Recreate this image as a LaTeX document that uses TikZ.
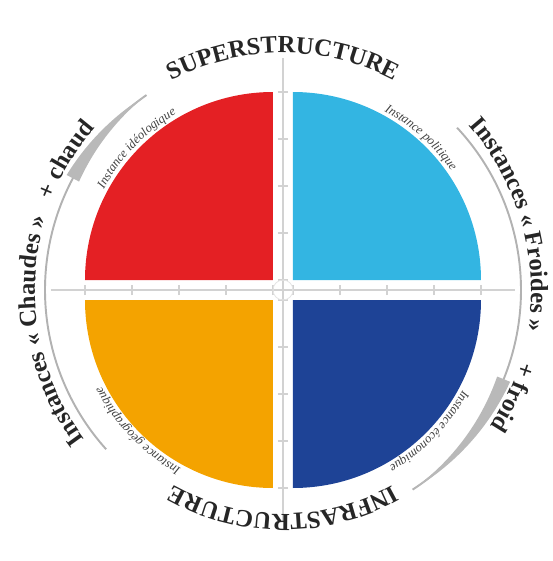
\documentclass[tikz,border=0pt]{standalone}
\usepackage{fontspec}
\setmainfont{Liberation Serif}
\usepackage{tikz}
\usetikzlibrary{decorations.text}
\definecolor{rouge}{RGB}{228,32,36}
\definecolor{ciel}{RGB}{51,181,226}
\definecolor{jaune}{RGB}{244,163,0}
\definecolor{marine}{RGB}{30,67,150}
\newcommand{\grand}{\fontsize{14}{14}\selectfont\bfseries\color{black!85}}
\newcommand{\petit}{\fontsize{7.2}{7.2}\selectfont\itshape\color{black!75}}

\begin{document}
\begin{tikzpicture}
    \tikzstyle{axe}=[draw=gray!35,line width=1.2pt];
    \tikzstyle{graduation}=[draw=gray!35,line width=0.7pt];
    \tikzstyle{bord}=[draw=gray!60,line width=1.1pt];
    \tikzstyle{fleche}=[fill=gray!55];
    \tikzstyle{titre}=[decorate,decoration={text along path,text align=center}];
    \useasboundingbox (-5.66,-5.42) rectangle (5.40,5.80);
    % quadrants
    \begin{scope}[shift={(-0.2,0.2)}]
        \fill[rouge] (0,0) -- (-3.76,0) arc (180:90:3.76) -- cycle;
        \path[titre,decoration={text={|\petit|Instance idéologique}}] (166:3.84) arc (166:106:3.84);
    \end{scope}
    \begin{scope}[shift={(0.2,0.2)}]
        \fill[ciel] (0,0) -- (3.76,0) arc (0:90:3.76) -- cycle;
        \path[titre,decoration={text={|\petit|Instance politique}}] (78:3.84) arc (78:18:3.84);
    \end{scope}
    \begin{scope}[shift={(-0.2,-0.2)}]
        \fill[jaune] (0,0) -- (-3.76,0) arc (180:270:3.76) -- cycle;
        \path[titre,decoration={text={|\petit|Instance géographique}}] (254:3.84) arc (254:194:3.84);
    \end{scope}
    \begin{scope}[shift={(0.2,-0.2)}]
        \fill[marine] (0,0) -- (3.76,0) arc (0:-90:3.76) -- cycle;
        \path[titre,decoration={text={|\petit|Instance économique}}] (-14:3.84) arc (-14:-74:3.84);
    \end{scope}
    % axes
    \draw[axe] (-4.64,0) -- (4.64,0);
    \draw[axe] (0,-4.62) -- (0,4.64);
    \foreach \t in {0.2,1.14,2.08,3.02,3.96} {
        \draw[graduation] (\t,-0.1) -- (\t,0.1) (-\t,-0.1) -- (-\t,0.1);
        \draw[graduation] (-0.1,\t) -- (0.1,\t) (-0.1,-\t) -- (0.1,-\t);
    }
    \draw[draw=gray!20,line width=0.5pt] (0,0) circle (0.2);
    % arcs
    \draw[bord] (125:4.76) arc (125:222:4.76);
    \draw[bord] (43:4.76) arc (43:-57:4.76);
    \fill[fleche] plot[domain=125:152,samples=20] (\x:{4.76+0.14*(\x-125)/27})
        -- plot[domain=152:125,samples=20] (\x:{4.76-0.14*(\x-125)/27}) -- cycle;
    \fill[fleche] plot[domain=-57:-22,samples=20] (\x:{4.76+0.14*(\x+57)/35})
        -- plot[domain=-22:-57,samples=20] (\x:{4.76-0.14*(\x+57)/35}) -- cycle;
    % titres
    \path[titre,decoration={text={|\grand|SUPERSTRUCTURE}}] (125:4.74) arc (125:55:4.74);
    \path[titre,decoration={text={|\grand|INFRASTRUCTURE}}] (-50:4.48) arc (-50:-130:4.48);
    \path[titre,decoration={text={|\grand|Instances « Chaudes »}}] (245:4.96) arc (245:135:4.96);
    \path[titre,decoration={text={|\grand|+ chaud}}] (175:4.96) arc (175:123:4.96);
    \path[titre,decoration={text={|\grand|Instances « Froides »}}] (71:4.96) arc (71:-39:4.96);
    \path[titre,decoration={text={|\grand|+ froid}}] (0:4.96) arc (0:-50:4.96);
\end{tikzpicture}
\end{document}
